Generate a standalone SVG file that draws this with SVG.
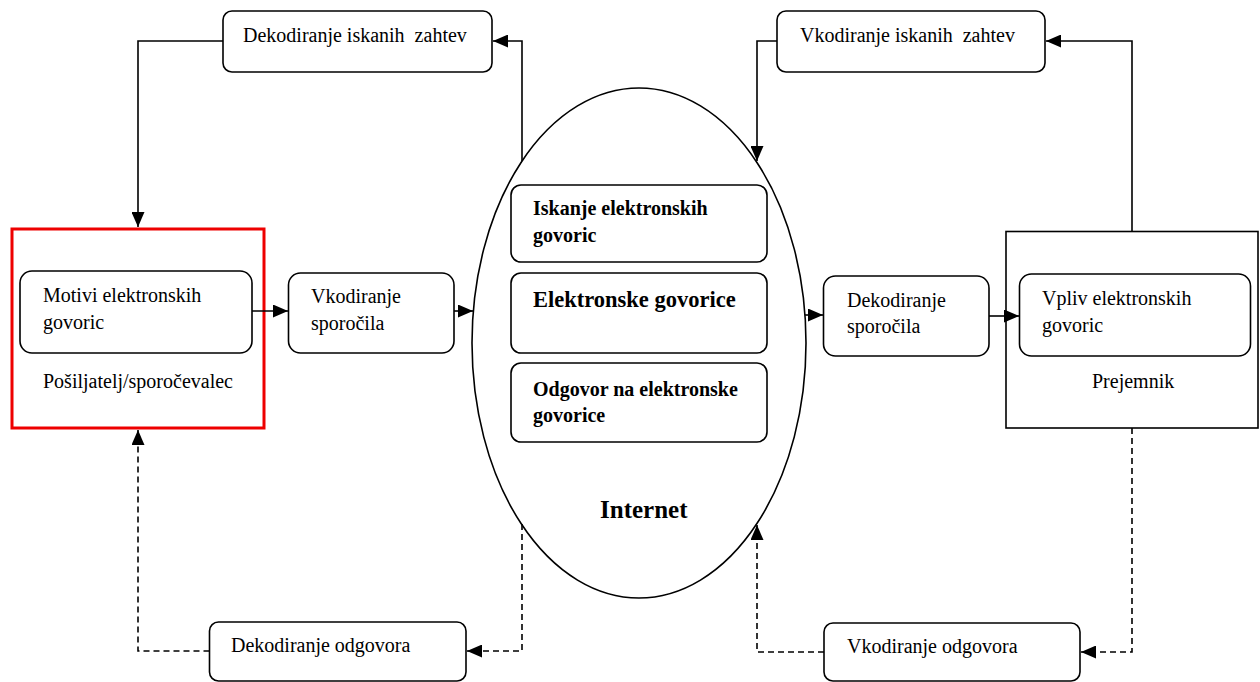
<svg xmlns="http://www.w3.org/2000/svg" width="1260" height="682" viewBox="0 0 1260 682">
<style>
.box{fill:#fff;stroke:#000;stroke-width:1.6}
.t{font-family:"Liberation Serif","Times New Roman",serif;font-size:20px;fill:#000}
.b{font-family:"Liberation Serif","Times New Roman",serif;font-weight:bold;font-size:20px;fill:#000}
.big{font-size:22.5px}
.huge{font-size:25px}
.c{fill:none;stroke:#000;stroke-width:1.6}
.d{fill:none;stroke:#000;stroke-width:1.6;stroke-dasharray:6 4}
</style>
<defs>
<marker id="ah" markerUnits="userSpaceOnUse" markerWidth="15" markerHeight="13" refX="15" refY="6.5" orient="auto">
<path d="M0,0 L15,6.5 L0,13 z" fill="#000"/>
</marker>
</defs>
<rect width="1260" height="682" fill="#fff"/>

<g id="internet">
<ellipse cx="639" cy="343" rx="167" ry="255" fill="#fff" stroke="#000" stroke-width="1.6"/>
<text class="b huge" x="600" y="518">Internet</text>
</g>

<g id="iskanje">
<rect class="box" x="511" y="185" width="256" height="77" rx="10"/>
<text class="b" x="533" y="215">Iskanje elektronskih</text>
<text class="b" x="533" y="242">govoric</text>
</g>
<g id="govorice">
<rect class="box" x="511" y="273" width="256" height="80" rx="10"/>
<text class="b big" x="533" y="307">Elektronske govorice</text>
</g>
<g id="odgovor">
<rect class="box" x="511" y="363" width="256" height="79" rx="10"/>
<text class="b" x="533" y="396">Odgovor na elektronske</text>
<text class="b" x="533" y="422">govorice</text>
</g>

<g id="posiljatelj">
<rect x="12" y="229" width="252" height="199" fill="#fff" stroke="#e00" stroke-width="3"/>
<text class="t" x="43" y="388">Pošiljatelj/sporočevalec</text>
</g>
<g id="motivi">
<rect class="box" x="20" y="271" width="232" height="82" rx="12"/>
<text class="t" x="43" y="302">Motivi elektronskih</text>
<text class="t" x="43" y="329">govoric</text>
</g>
<g id="vkodiranje-sporocila">
<rect class="box" x="288.5" y="273" width="165.5" height="80" rx="12"/>
<text class="t" x="311" y="303">Vkodiranje</text>
<text class="t" x="311" y="330">sporočila</text>
</g>
<g id="dekodiranje-sporocila">
<rect class="box" x="823.5" y="276" width="165.5" height="80" rx="12"/>
<text class="t" x="847" y="307">Dekodiranje</text>
<text class="t" x="847" y="333">sporočila</text>
</g>
<g id="prejemnik">
<rect x="1006" y="231.5" width="252" height="196.5" fill="#fff" stroke="#000" stroke-width="1.6"/>
<text class="t" x="1092" y="388">Prejemnik</text>
</g>
<g id="vpliv">
<rect class="box" x="1019.5" y="274" width="231" height="82" rx="12"/>
<text class="t" x="1042" y="305">Vpliv elektronskih</text>
<text class="t" x="1042" y="332">govoric</text>
</g>
<g id="dekodiranje-zahtev">
<rect class="box" x="223" y="11" width="269" height="61" rx="9"/>
<text class="t" x="243" y="42" xml:space="preserve">Dekodiranje iskanih  zahtev</text>
</g>
<g id="vkodiranje-zahtev">
<rect class="box" x="777" y="11" width="268" height="61" rx="9"/>
<text class="t" x="800" y="42" xml:space="preserve">Vkodiranje iskanih  zahtev</text>
</g>
<g id="dekodiranje-odgovora">
<rect class="box" x="209.5" y="622" width="256.5" height="59" rx="9"/>
<text class="t" x="231" y="652">Dekodiranje odgovora</text>
</g>
<g id="vkodiranje-odgovora">
<rect class="box" x="824" y="623" width="256" height="58" rx="9"/>
<text class="t" x="847" y="653">Vkodiranje odgovora</text>
</g>

<g id="connectors">
<polyline class="c" points="223,41 138,41 138,227" marker-end="url(#ah)"/>
<polyline class="c" points="522,161 522,41 493,41" marker-end="url(#ah)"/>
<polyline class="c" points="777,41 757,41 757,161" marker-end="url(#ah)"/>
<polyline class="c" points="1132,231.5 1132,41 1046,41" marker-end="url(#ah)"/>
<line class="c" x1="252" y1="311" x2="288" y2="311" marker-end="url(#ah)"/>
<line class="c" x1="454" y1="311" x2="473" y2="311" marker-end="url(#ah)"/>
<line class="c" x1="805" y1="315" x2="823" y2="315" marker-end="url(#ah)"/>
<line class="c" x1="989" y1="316" x2="1019" y2="316" marker-end="url(#ah)"/>
<polyline class="d" points="522,524 522,651 467,651" marker-end="url(#ah)"/>
<polyline class="d" points="209.5,651 138,651 138,430" marker-end="url(#ah)"/>
<polyline class="d" points="1132,428 1132,652 1081,652" marker-end="url(#ah)"/>
<polyline class="d" points="824,652 757,652 757,525" marker-end="url(#ah)"/>
</g>
</svg>
